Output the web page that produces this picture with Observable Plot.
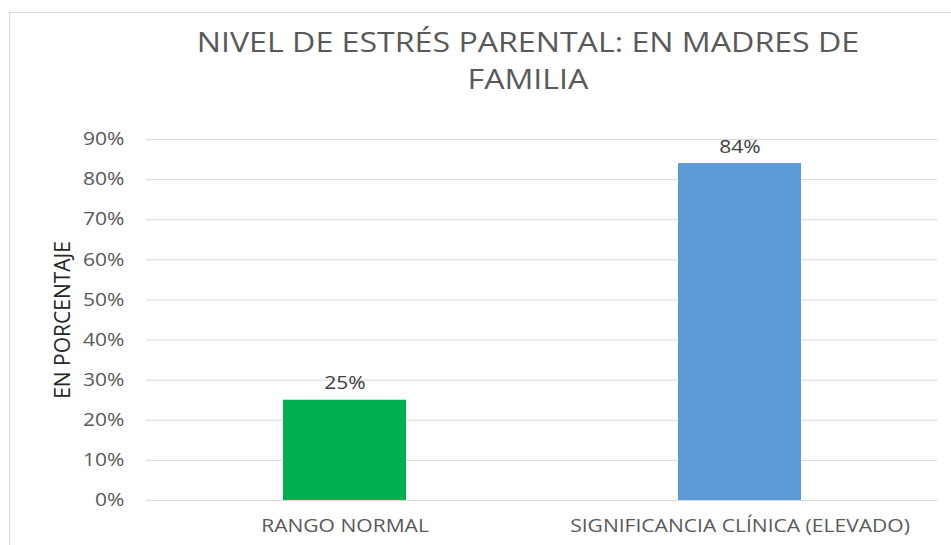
<!DOCTYPE html>
<html>
<head>
<meta charset="utf-8">
<script src="https://cdn.jsdelivr.net/npm/d3@7"></script>
<script src="https://cdn.jsdelivr.net/npm/@observablehq/plot@0.6"></script>
<style>
  html, body { margin: 0; padding: 0; background: #fff; }
  #wrap { position: relative; width: 951px; height: 545px; overflow: hidden; font-family: "Open Sans", sans-serif; }
  #border { position: absolute; left: 9px; top: 12px; width: 1000px; height: 600px; border: 1.5px solid #d9d9d9; box-sizing: border-box; }
  #title { position: absolute; left: 0; top: 23px; width: 1056px; text-align: center; font-size: 27px; line-height: 37px; color: #595959; transform: scaleX(1.19); }
  #chart { position: absolute; left: 0; top: 0; }
</style>
</head>
<body>
<div id="wrap">
  <div id="border"></div>
  <div id="title">NIVEL DE ESTRÉS PARENTAL: EN MADRES DE<br>FAMILIA</div>
  <div id="chart"></div>
</div>
<script>
const categories = ["RANGO NORMAL", "SIGNIFICANCIA CLÍNICA (ELEVADO)"];
const values = [0.25, 0.84];
const colors = ["#00b050", "#5b9bd5"];
const yTicks = [0, 0.1, 0.2, 0.3, 0.4, 0.5, 0.6, 0.7, 0.8, 0.9];
const yLabel = "EN PORCENTAJE";

const data = categories.map((c, i) => ({category: c, value: values[i], color: colors[i]}));
const pct = d3.format(".0%");

const plot = Plot.plot({
  width: 951,
  height: 545,
  marginLeft: 146,
  marginRight: 14,
  marginTop: 139,
  marginBottom: 45,
  style: {fontFamily: "'Open Sans', sans-serif", background: "transparent", overflow: "visible"},
  x: {domain: categories, padding: 0},
  y: {domain: [0, 0.9]},
  marks: [
    Plot.gridY(yTicks, {stroke: "#d9d9d9", strokeOpacity: 1, strokeWidth: 1}),
    Plot.barY(data, {x: "category", y: "value", fill: "color", insetLeft: 136, insetRight: 136}),
    Plot.text(data, {x: "category", y: "value", text: d => pct(d.value), lineAnchor: "bottom", dy: -11, fontSize: 18, fill: "#404040", className: "stretch"}),
    Plot.axisY(yTicks, {tickSize: 0, tickPadding: 22, tickFormat: pct, fontSize: 18, color: "#595959", label: null, className: "stretch"}),
    Plot.axisX({tickSize: 0, tickPadding: 19, fontSize: 18, color: "#595959", label: null, className: "stretch"}),
    Plot.text([yLabel], {frameAnchor: "left", textAnchor: "middle", dx: -83, rotate: -90, fontSize: 21, fill: "#262626"})
  ]
});
// the reference's text is rendered slightly wider than it is tall
d3.select(plot).selectAll(".stretch text").each(function() {
  const t = this.getAttribute("transform");
  if (t) this.setAttribute("transform", t + " scale(1.17,1)");
});
document.getElementById("chart").appendChild(plot);
</script>
</body>
</html>
